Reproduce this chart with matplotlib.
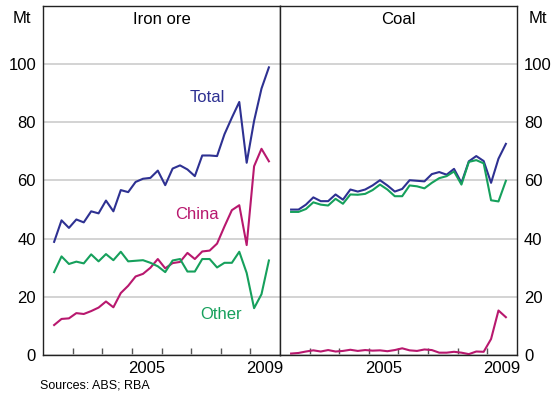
import numpy as np
import matplotlib
matplotlib.use('Agg')
import matplotlib.pyplot as plt
from matplotlib.ticker import FixedLocator

plt.rcParams['font.family'] = ['Liberation Sans', 'DejaVu Sans']

# quarterly data, 2002 Q2 to 2009 Q3 (Mt)
quarters = np.arange(30) * 0.25 + 2002.375

iron_total = [38.9, 46.3, 43.7, 46.6, 45.6, 49.4, 48.7, 53.1, 49.4, 56.7,
              56.0, 59.5, 60.6, 60.9, 63.4, 58.4, 64.1, 65.2, 63.8, 61.5,
              68.6, 68.6, 68.4, 75.9, 81.6, 87.0, 66.1, 80.5, 91.6, 98.9]
iron_china = [10.3, 12.4, 12.6, 14.4, 14.1, 15.1, 16.3, 18.4, 16.4, 21.3,
              23.8, 27.0, 27.9, 30.0, 33.0, 29.8, 31.6, 32.0, 35.1, 33.0,
              35.6, 35.9, 38.3, 44.2, 49.8, 51.5, 37.8, 64.9, 70.9, 66.6]
iron_other = [28.5, 33.9, 31.3, 32.1, 31.5, 34.6, 32.2, 34.7, 32.6, 35.5,
              32.2, 32.4, 32.6, 31.7, 30.5, 28.5, 32.5, 33.0, 28.7, 28.7,
              33.0, 33.0, 30.1, 31.7, 31.7, 35.5, 28.2, 16.1, 20.9, 32.5]

coal_total = [50.0, 50.0, 51.7, 54.2, 52.9, 52.9, 55.2, 53.4, 56.9, 56.2,
              56.9, 58.3, 60.1, 58.3, 56.2, 57.1, 60.1, 59.9, 59.7, 62.2,
              62.9, 62.0, 64.0, 59.2, 66.6, 68.4, 66.7, 59.2, 67.5, 72.6]
coal_other = [49.2, 49.2, 50.2, 52.5, 51.7, 51.4, 53.7, 52.0, 55.2, 55.1,
              55.4, 56.7, 58.6, 56.9, 54.6, 54.6, 58.3, 58.0, 57.3, 59.2,
              60.8, 61.5, 63.1, 58.6, 66.4, 67.0, 65.9, 53.2, 52.8, 59.9]
coal_china = [0.5, 0.7, 1.2, 1.6, 1.2, 1.7, 1.2, 1.4, 1.8, 1.4,
              1.7, 1.5, 1.6, 1.3, 1.7, 2.3, 1.6, 1.4, 1.9, 1.7,
              0.8, 0.8, 1.1, 0.8, 0.3, 1.2, 1.1, 5.5, 15.3, 13.0]

yticks = [0, 20, 40, 60, 80, 100]
year_ticks = [2003, 2004, 2005, 2006, 2007, 2008, 2009]
year_labels = [2005.5, 2009.5]

blue = '#2e3192'
magenta = '#b8186e'
green = '#16a05c'

fig = plt.figure(figsize=(5.58, 4.0), dpi=100)
ax1 = fig.add_axes([0.0771, 0.1125, 0.4247, 0.8725])
ax2 = fig.add_axes([0.5018, 0.1125, 0.4247, 0.8725], sharey=ax1)

for ax in (ax1, ax2):
    ax.set_xlim(2002, 2010)
    ax.set_ylim(0, 120)
    ax.set_yticks(yticks)
    ax.grid(axis='y', color='#c8c8c8', linewidth=1.1)
    ax.set_axisbelow(True)
    ax.xaxis.set_major_locator(FixedLocator(year_ticks))
    ax.xaxis.set_minor_locator(FixedLocator(year_labels))
    ax.xaxis.set_major_formatter(plt.NullFormatter())
    ax.set_xticklabels(['2005', '2009'], minor=True)
    ax.tick_params(axis='x', which='major', direction='in', length=5, width=1, color='#555555')
    ax.tick_params(axis='x', which='minor', length=0, labelsize=12, pad=4)
    ax.tick_params(axis='y', length=0, labelsize=12, pad=5)
    for s in ax.spines.values():
        s.set_linewidth(1.0)
        s.set_color('#222222')

ax1.plot(quarters, iron_total, color=blue, lw=1.5)
ax1.plot(quarters, iron_china, color=magenta, lw=1.5)
ax1.plot(quarters, iron_other, color=green, lw=1.5)
ax1.text(2007.55, 88.5, 'Total', color=blue, fontsize=12, ha='center', va='center')
ax1.text(2007.2, 48.3, 'China', color=magenta, fontsize=12, ha='center', va='center')
ax1.text(2008.0, 13.8, 'Other', color=green, fontsize=12, ha='center', va='center')
ax1.text(0.5, 0.962, 'Iron ore', fontsize=12, ha='center', va='center', transform=ax1.transAxes)

ax2.plot(quarters, coal_total, color=blue, lw=1.5)
ax2.plot(quarters, coal_other, color=green, lw=1.5)
ax2.plot(quarters, coal_china, color=magenta, lw=1.5)
ax2.text(0.5, 0.962, 'Coal', fontsize=12, ha='center', va='center', transform=ax2.transAxes)
ax2.yaxis.tick_right()
ax2.tick_params(axis='y', labelright=True, labelleft=False)

fig.text(0.055, 0.953, 'Mt', fontsize=12, ha='right', va='center')
fig.text(0.947, 0.953, 'Mt', fontsize=12, ha='left', va='center')
fig.text(0.072, 0.035, 'Sources: ABS; RBA', fontsize=9, ha='left', va='center')

fig.savefig('out.png', dpi=100)
